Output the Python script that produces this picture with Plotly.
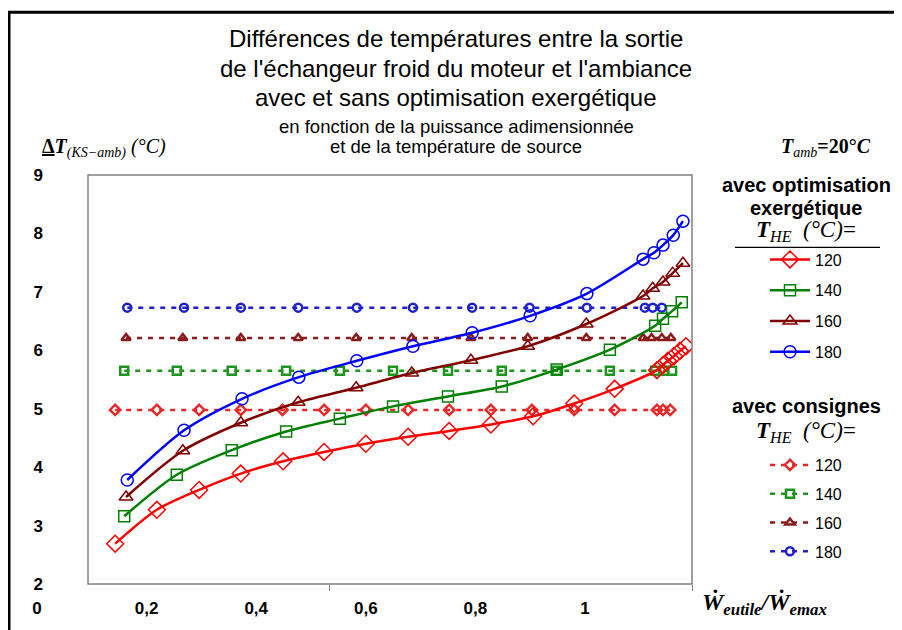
import plotly.graph_objects as go

# ---------------- data ----------------
temps = ["120", "140", "160", "180"]

# avec optimisation exergétique (solid lines)
x_opt_120 = [0.045, 0.114, 0.184, 0.253, 0.323, 0.391, 0.460, 0.530, 0.598, 0.667, 0.737, 0.805, 0.872, 0.942, 0.952, 0.960, 0.970, 0.980, 0.990]
y_opt_120 = [2.69, 3.27, 3.61, 3.89, 4.10, 4.26, 4.40, 4.52, 4.62, 4.73, 4.87, 5.09, 5.34, 5.66, 5.75, 5.82, 5.90, 5.99, 6.07]
x_opt_140 = [0.060, 0.147, 0.238, 0.328, 0.417, 0.505, 0.596, 0.685, 0.776, 0.864, 0.939, 0.952, 0.967, 0.983]
y_opt_140 = [3.16, 3.87, 4.29, 4.61, 4.83, 5.04, 5.21, 5.38, 5.67, 6.01, 6.42, 6.54, 6.67, 6.82]
x_opt_160 = [0.063, 0.157, 0.253, 0.348, 0.444, 0.536, 0.634, 0.728, 0.825, 0.919, 0.935, 0.952, 0.968, 0.985]
y_opt_160 = [3.49, 4.28, 4.76, 5.11, 5.36, 5.61, 5.83, 6.07, 6.45, 6.93, 7.06, 7.17, 7.32, 7.49]
x_opt_180 = [0.065, 0.159, 0.255, 0.349, 0.445, 0.538, 0.636, 0.732, 0.826, 0.919, 0.937, 0.952, 0.969, 0.985]
y_opt_180 = [3.78, 4.63, 5.17, 5.54, 5.82, 6.07, 6.30, 6.59, 6.97, 7.56, 7.67, 7.80, 7.97, 8.21]

# avec consignes (dashed lines)
x_cons_120 = [0.045, 0.114, 0.184, 0.253, 0.322, 0.391, 0.460, 0.530, 0.598, 0.667, 0.735, 0.805, 0.872, 0.942, 0.952, 0.964]
y_cons_120 = [4.98] * len(x_cons_120)
x_cons_140 = [0.060, 0.147, 0.238, 0.328, 0.417, 0.505, 0.596, 0.685, 0.776, 0.864, 0.939, 0.954, 0.967]
y_cons_140 = [5.65] * len(x_cons_140)
x_cons_160 = [0.063, 0.157, 0.253, 0.348, 0.444, 0.536, 0.634, 0.728, 0.825, 0.919, 0.933, 0.950, 0.965]
y_cons_160 = [6.21] * len(x_cons_160)
x_cons_180 = [0.065, 0.159, 0.253, 0.348, 0.445, 0.538, 0.636, 0.731, 0.826, 0.922, 0.935, 0.950]
y_cons_180 = [6.73] * len(x_cons_180)

x_tick_vals = [0, 0.2, 0.4, 0.6, 0.8, 1]
x_tick_text = ["0", "0,2", "0,4", "0,6", "0,8", "1"]
y_tick_vals = [2, 3, 4, 5, 6, 7, 8, 9]

# ---------------- layout helpers (screen pixels -> paper) ----------------
OFF = 8  # page body margin
W, H = 894, 622
ML, MR, MT, MB = 22, 210, 167, 43
PW = W - ML - MR
PH = H - MT - MB


def px(x):
    return (x - OFF - ML) / PW


def py(y):
    return (H - MB - (y - OFF)) / PH


opt_colors = ["#ff0000", "#008000", "#800000", "#0000ff"]
cons_colors = ["#e82828", "#1e961e", "#8c1a1a", "#1f1fcc"]
symbols = ["diamond-open", "square-open", "triangle-up-open", "circle-open"]
opt_sizes = [13, 11, 12, 12]

opt_x = [x_opt_120, x_opt_140, x_opt_160, x_opt_180]
opt_y = [y_opt_120, y_opt_140, y_opt_160, y_opt_180]
cons_x = [x_cons_120, x_cons_140, x_cons_160, x_cons_180]
cons_y = [y_cons_120, y_cons_140, y_cons_160, y_cons_180]

fig = go.Figure()

# empty trace that carries the tick-label axis (x2)
fig.add_trace(go.Scatter(x=x_tick_vals, y=[None] * len(x_tick_vals), xaxis="x2", yaxis="y",
                         mode="markers", showlegend=False, hoverinfo="skip"))

for i, t in enumerate(temps):
    fig.add_trace(go.Scatter(
        x=cons_x[i], y=cons_y[i], mode="lines+markers", name=t,
        legend="legend2", legendgroup="c" + t,
        line=dict(color=cons_colors[i], width=2.5, dash="5px,6px"),
        marker=dict(symbol=symbols[i], size=8, color=cons_colors[i], line=dict(width=2.5, color=cons_colors[i])),
    ))

for i, t in enumerate(temps):
    fig.add_trace(go.Scatter(
        x=opt_x[i], y=opt_y[i], mode="lines+markers", name=t,
        legend="legend", legendgroup="o" + t,
        line=dict(color=opt_colors[i], width=2.5, shape="spline", smoothing=0.8),
        marker=dict(symbol=symbols[i], size=opt_sizes[i], color=opt_colors[i], line=dict(width=1.5, color=opt_colors[i])),
    ))

tick_font = dict(family="Liberation Sans", size=17, color="black", weight="bold")

fig.update_layout(
    width=W, height=H,
    margin=dict(l=ML, r=MR, t=MT, b=MB),
    paper_bgcolor="white", plot_bgcolor="rgba(0,0,0,0)",
    showlegend=True,
    xaxis=dict(domain=[px(88), 1], range=[0, 1], showgrid=False, zeroline=False,
               showline=False, ticks="outside", ticklen=6, tickcolor="#808080",
               tickvals=[0.4, 1.0], showticklabels=False, anchor="y"),
    xaxis2=dict(domain=[px(37), px(585)], range=[0, 1], showgrid=False, zeroline=False,
                showline=False, ticks="", tickvals=x_tick_vals, ticktext=x_tick_text,
                tickfont=tick_font, anchor="y", ticklabelstandoff=12),
    yaxis=dict(range=[2, 9], tickvals=y_tick_vals, showgrid=False, zeroline=False,
               showline=False, ticks="", tickfont=tick_font, anchor="x",
               ticklabelstandoff=44),
    legend=dict(x=px(765), y=py(243), xanchor="left", yanchor="top",
                font=dict(family="Liberation Sans", size=16, color="black"),
                traceorder="grouped", tracegroupgap=7, itemwidth=40,
                bgcolor="rgba(0,0,0,0)"),
    legend2=dict(x=px(765), y=py(450), xanchor="left", yanchor="top",
                 font=dict(family="Liberation Sans", size=16, color="black"),
                 traceorder="grouped", tracegroupgap=5, itemwidth=40,
                 bgcolor="rgba(0,0,0,0)"),
)

# plot frame and outer border
fig.add_shape(type="rect", xref="x domain", yref="y domain", x0=0, x1=1, y0=0, y1=1,
              line=dict(color="#808080", width=1.5))
fig.add_shape(type="rect", xref="paper", yref="paper", x0=px(9), x1=px(899), y0=py(640), y1=py(11),
              line=dict(color="black", width=3))
# underline below the first legend heading
fig.add_shape(type="line", xref="paper", yref="paper", x0=px(735), x1=px(880), y0=py(248), y1=py(248),
              line=dict(color="black", width=1.2))

title_font = dict(family="Liberation Sans", size=24, color="black")
sub_font = dict(family="Liberation Sans", size=18.5, color="black")
texts = [
    ("Différences de températures entre la sortie", 38, title_font),
    ("de l'échangeur froid du moteur et l'ambiance", 68, title_font),
    ("avec et sans optimisation exergétique", 97, title_font),
    ("en fonction de la puissance adimensionnée", 126, sub_font),
    ("et de la température de source", 146, sub_font),
]
for txt, yy, f in texts:
    fig.add_annotation(text=txt, x=px(456), y=py(yy), xref="paper", yref="paper",
                       showarrow=False, font=f, xanchor="center", yanchor="middle")

serif = dict(family="Liberation Serif", size=20, color="black")
fig.add_annotation(text="<b><u>Δ</u></b><b><i>T</i></b><sub><i>(KS−amb)</i></sub> <i>(°C)</i>",
                   x=px(40), y=py(148), xref="paper", yref="paper", showarrow=False,
                   font=serif, xanchor="left", yanchor="middle")
fig.add_annotation(text="<b><i>T</i></b><sub><i>amb</i></sub><b>=20°<i>C</i></b>",
                   x=px(779), y=py(147), xref="paper", yref="paper", showarrow=False,
                   font=serif, xanchor="left", yanchor="middle")
fig.add_annotation(text="<b><i>Ẇ</i></b><sub><b><i>eutile</i></b></sub><b><i>/Ẇ</i></b><sub><b><i>emax</i></b></sub>",
                   x=px(700), y=py(607), xref="paper", yref="paper", showarrow=False,
                   font=dict(family="Liberation Serif", size=24, color="black"),
                   xanchor="left", yanchor="middle")

leg_font = dict(family="Liberation Sans", size=20, color="black", weight="bold")
the_font = dict(family="Liberation Serif", size=23, color="black")
heads = [
    ("avec optimisation", 185, leg_font),
    ("exergétique", 208, leg_font),
    ("<b><i>T</i></b><sub><i>HE</i></sub>  <i>(°C)</i>=", 231, the_font),
    ("avec consignes", 408, leg_font),
    ("<b><i>T</i></b><sub><i>HE</i></sub>  <i>(°C)</i>=", 434, the_font),
]
for txt, yy, f in heads:
    fig.add_annotation(text=txt, x=px(806), y=py(yy), xref="paper", yref="paper",
                       showarrow=False, font=f, xanchor="center", yanchor="middle")

fig.write_html("out.html")
